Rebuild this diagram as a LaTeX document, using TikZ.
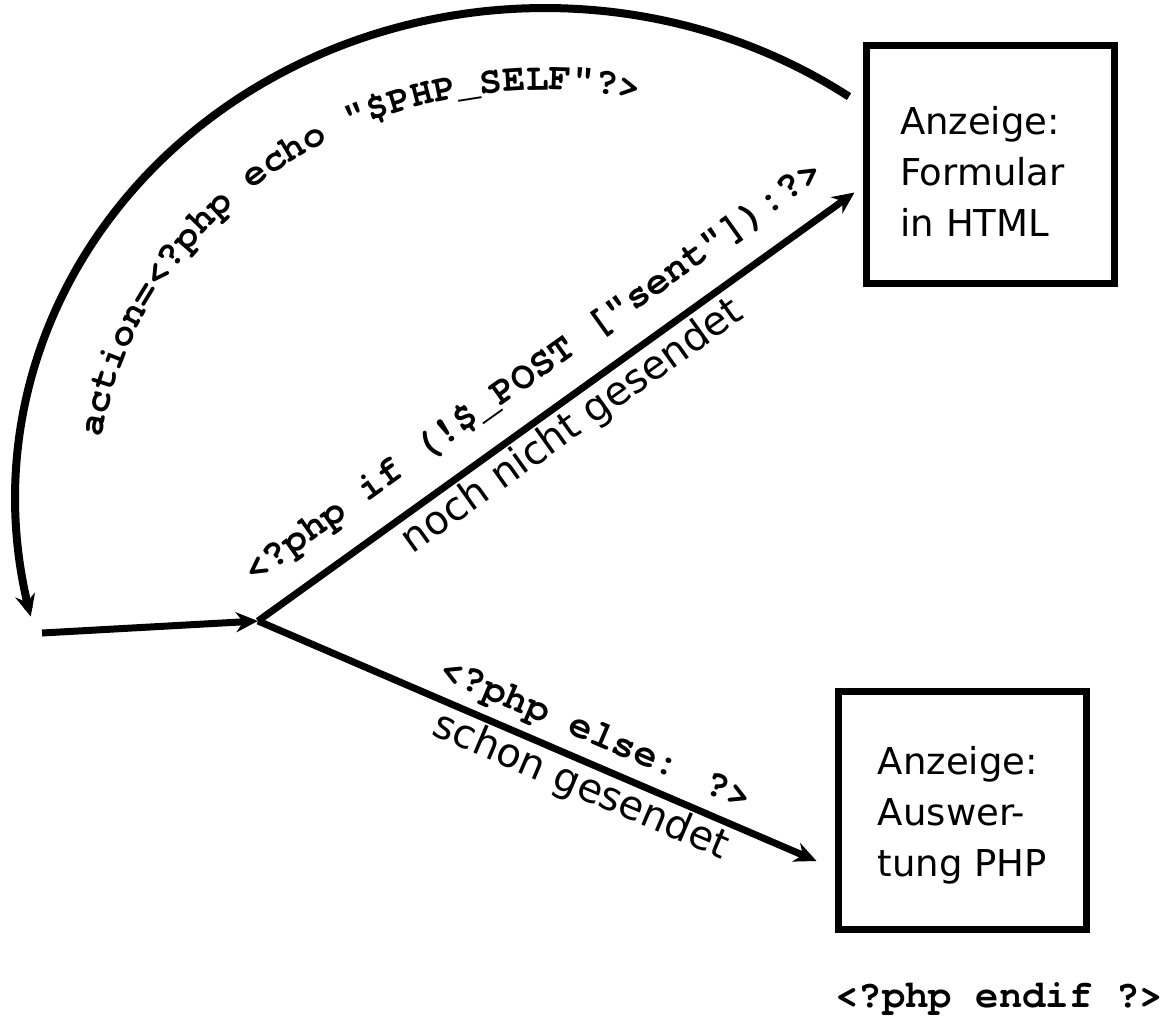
\documentclass[tikz,border=0pt]{standalone}
\usepackage{fontspec}
\usetikzlibrary{arrows.meta,decorations.text,calc}
\newfontfamily\sansf{DejaVu Sans}
\newfontfamily\codef{TeX Gyre Cursor}[Ligatures=TeXOff]
\newcommand\codefont{\codef\bfseries\fontsize{39}{47}\selectfont}
\newcommand\arcfont{\codef\bfseries\fontsize{38}{46}\selectfont}
\newcommand\labfont{\sansf\fontsize{40}{48}\selectfont}
\newcommand\boxfont{\sansf\fontsize{37}{51}\selectfont}
\begin{document}
\begin{tikzpicture}[x=1pt,y=-1pt,
  box/.style={draw, line width=7pt, minimum width=248pt, minimum height=238pt, inner sep=0pt, align=left, font=\boxfont},
  conn/.style={line width=7pt, -{Stealth[length=22pt,width=20pt]}},
  codelab/.style={font=\codefont, inner sep=0pt, anchor=base},
  textlab/.style={font=\labfont, inner sep=0pt, anchor=base},
  arcline/.style={line width=8pt, -{Stealth[length=22pt,width=20pt]}}
]
\useasboundingbox (0,0) rectangle (1172,1019);
\fill[white] (0,0) rectangle (1172,1019);
\node[box, text width=180pt] (B1) at (990,164.5) {\rule{0pt}{43pt}Anzeige:\\Formular\\in HTML};
\node[box] (B2) at (962.5,810.5) {\rule{0pt}{38pt}Anzeige:\\Auswer-\\tung PHP};
\coordinate (J) at (258,621);
\coordinate (S) at (42,633);
\coordinate (T1) at ([shift={(-8,28)}]B1.west);
\coordinate (T2) at ([shift={(-18.5,50.5)}]B2.west);
\draw[conn] (S) -- (J);
\draw[conn] (J) -- (T1);
\draw[conn] (J) -- (T2);
\node[codelab, rotate=35.53] (L1) at ($(J)!369pt!(T1)+(-18.6,-26.0)$) {<?php if (!\$\_POST ["sent"]):?>};
\node[textlab, rotate=35.53] (L2) at ($(J)!369pt!(T1)+(21.5,30.1)$) {noch nicht gesendet};
\node[codelab, rotate=-23.13] (L3) at ($(J)!355pt!(T2)+(7.5,-17.5)$) {<?php else: ?>};
\node[textlab, rotate=-23.13] (L4) at ($(J)!362pt!(T2)+(-14.1,33.1)$) {schon gesendet};
\draw[arcline] plot[domain=55:194, samples=150] ({545+530*cos(\x)},{498-490*sin(\x)});
\path[decorate, decoration={text along path, text align=center,
  text={|\arcfont|action=<?php echo "{\textdollar}PHP{\textunderscore}SELF"?>}}]
  plot[domain=180:70, samples=150] ({545+448*cos(\x)},{498-408*sin(\x)});
\node[font=\codefont, anchor=base, inner sep=0pt] (E) at (999,1007) {<?php endif ?>};
\end{tikzpicture}
\end{document}
